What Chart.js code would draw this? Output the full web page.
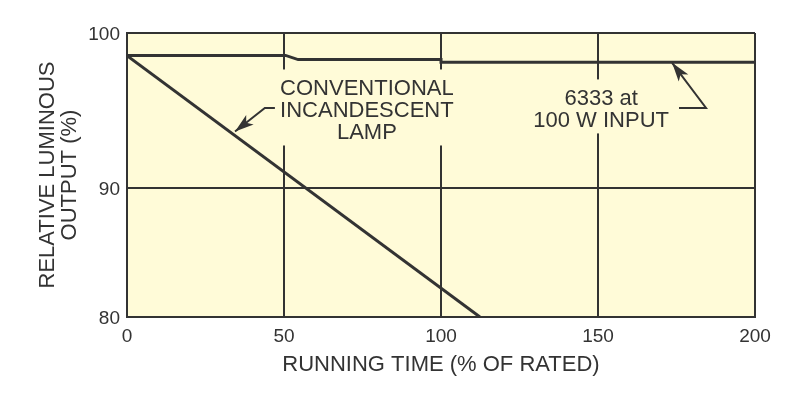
<!DOCTYPE html>
<html>
<head>
<meta charset="utf-8">
<script src="https://cdn.jsdelivr.net/npm/chart.js@4"></script>
<style>
  html, body { margin: 0; padding: 0; background: #fff; }
  #wrap { width: 800px; height: 397px; }
</style>
</head>
<body>
<div id="wrap"><canvas id="chart" width="800" height="397"></canvas></div>
<script>
// values
const lampTime = [0, 112.4];
const lampOutput = [98.4, 80];
const hpsTime = [0, 50.5, 54.5, 100, 100, 200];
const hpsOutput = [98.42, 98.42, 98.13, 98.13, 97.94, 97.94];
const xTicks = [0, 50, 100, 150, 200];
// the source drawing puts its "90" line a bit below the middle of the frame
const yTickValues = [80, 89.1, 100];
const yTickLabels = ['80', '90', '100'];
const lampLabel = ['CONVENTIONAL', 'INCANDESCENT', 'LAMP'];
const hpsLabel = ['6333 at', '100 W INPUT'];

const INK = '#333333';
const PAPER = '#fffbd8';
const FONT = "'Liberation Sans', Arial, Helvetica, sans-serif";

// label / arrow anchors, in data units
const notes = [
  { x: 76.4, y: 95.6, lines: lampLabel },
  { x: 151, y: 94.9, lines: hpsLabel }
];
const arrows = [
  [[47.1, 94.72], [43.9, 94.72], [34.4, 93.06]],
  [[175.8, 94.72], [184.4, 94.72], [173.6, 97.9]]
];

const pts = (xs, ys) => xs.map((x, i) => ({ x, y: ys[i] }));

const paperPlugin = {
  id: 'paper',
  beforeDraw(chart) {
    const { ctx, chartArea: a } = chart;
    ctx.save();
    ctx.fillStyle = PAPER;
    ctx.fillRect(a.left, a.top, a.right - a.left, a.bottom - a.top);
    ctx.restore();
  }
};

function arrowHead(ctx, from, to) {
  const ang = Math.atan2(to[1] - from[1], to[0] - from[0]);
  const len = 19, half = 6;
  const bx = to[0] - Math.cos(ang) * len, by = to[1] - Math.sin(ang) * len;
  const nx = -Math.sin(ang), ny = Math.cos(ang);
  const mx = to[0] - Math.cos(ang) * len * 0.75, my = to[1] - Math.sin(ang) * len * 0.75;
  ctx.beginPath();
  ctx.moveTo(to[0], to[1]);
  ctx.lineTo(bx + nx * half, by + ny * half);
  ctx.lineTo(mx, my);
  ctx.lineTo(bx - nx * half, by - ny * half);
  ctx.closePath();
  ctx.fill();
}

const notesPlugin = {
  id: 'notes',
  afterDatasetsDraw(chart) {
    const { ctx, scales: { x, y } } = chart;
    ctx.save();
    ctx.font = '22px ' + FONT;
    ctx.textAlign = 'center';
    ctx.textBaseline = 'alphabetic';
    const lh = 22;
    notes.forEach(n => {
      const cx = x.getPixelForValue(n.x);
      const by = y.getPixelForValue(n.y);
      const w = Math.max(...n.lines.map(s => ctx.measureText(s).width));
      ctx.fillStyle = PAPER;
      ctx.fillRect(cx - w / 2 - 5, by - 26, w + 10, (n.lines.length - 1) * lh + 32);
      ctx.fillStyle = INK;
      n.lines.forEach((s, i) => ctx.fillText(s, cx, by + i * lh));
    });
    ctx.strokeStyle = INK;
    ctx.fillStyle = INK;
    ctx.lineWidth = 2;
    arrows.forEach(a => {
      const p = a.map(([vx, vy]) => [x.getPixelForValue(vx), y.getPixelForValue(vy)]);
      ctx.beginPath();
      p.forEach((q, i) => i ? ctx.lineTo(q[0], q[1]) : ctx.moveTo(q[0], q[1]));
      ctx.stroke();
      arrowHead(ctx, p[p.length - 2], p[p.length - 1]);
    });
    ctx.restore();
  }
};

new Chart(document.getElementById('chart'), {
  type: 'scatter',
  data: {
    datasets: [
      { data: pts(lampTime, lampOutput), showLine: true, borderColor: INK, borderWidth: 3, pointRadius: 0, tension: 0 },
      { data: pts(hpsTime, hpsOutput), showLine: true, borderColor: INK, borderWidth: 3, pointRadius: 0, tension: 0 }
    ]
  },
  options: {
    responsive: false,
    animation: false,
    layout: { padding: { top: 33, right: 45, left: 0, bottom: 0 } },
    plugins: { legend: { display: false }, tooltip: { enabled: false } },
    scales: {
      x: {
        type: 'linear', min: 0, max: 200,
        afterBuildTicks: s => { s.ticks = xTicks.map(v => ({ value: v })); },
        afterFit: s => { s.height = 80; },
        grid: { color: INK, lineWidth: 2, drawTicks: false },
        border: { color: INK, width: 2 },
        ticks: { color: INK, font: { family: FONT, size: 19 }, padding: 8, maxRotation: 0 },
        title: {
          display: true, text: 'RUNNING TIME (% OF RATED)', color: INK,
          font: { family: FONT, size: 22, lineHeight: 1 }, padding: { top: 0, bottom: 21 }
        }
      },
      y: {
        type: 'linear', min: 80, max: 100,
        afterBuildTicks: s => { s.ticks = yTickValues.map(v => ({ value: v })); },
        afterFit: s => { s.width = 127; },
        grid: { color: INK, lineWidth: 2, drawTicks: false },
        border: { color: INK, width: 2 },
        ticks: { color: INK, font: { family: FONT, size: 19 }, padding: 7, labelOffset: 2, callback: (v, i) => yTickLabels[i] },
        title: {
          display: true, text: ['RELATIVE LUMINOUS', 'OUTPUT (%)'], color: INK,
          font: { family: FONT, size: 22, lineHeight: 1 }, padding: { top: 37, bottom: 0 }
        }
      }
    }
  },
  plugins: [paperPlugin, notesPlugin]
});
</script>
</body>
</html>
